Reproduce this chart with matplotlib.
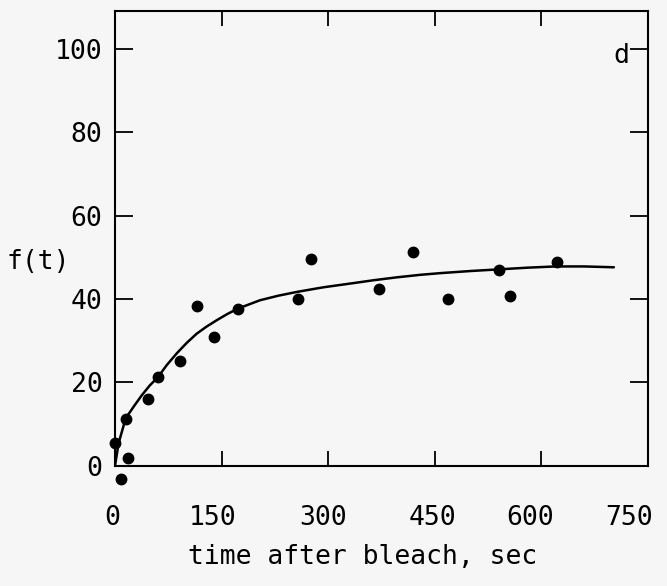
import matplotlib
matplotlib.use("Agg")
from matplotlib import pyplot as plt
from matplotlib.transforms import ScaledTranslation

# data (panel d)
t_points = [0, 9, 15, 19, 47, 60, 91, 116, 139, 173, 257, 276, 372, 419, 468, 540, 556, 622]
f_points = [5.6, -3.2, 11.2, 1.8, 16.0, 21.3, 25.2, 38.4, 30.9, 37.7, 40.1, 49.7, 42.5, 51.3, 40.0, 47.0, 40.7, 48.9]

# hand drawn fit curve, traced
t_curve = [0, 5, 15, 27, 38, 49, 60, 73, 87, 101, 115, 129, 143, 158, 173, 204, 230, 256, 293, 331, 364, 397, 430, 458, 500, 540, 580, 620, 660, 702]
f_curve = [0, 5.4, 11.4, 14.4, 17.0, 19.3, 21.2, 24.2, 27.0, 29.5, 31.7, 33.4, 34.9, 36.4, 37.7, 39.7, 40.8, 41.7, 42.8, 43.7, 44.5, 45.2, 45.8, 46.2, 46.7, 47.1, 47.5, 47.8, 47.8, 47.6]

x_ticks = [0, 150, 300, 450, 600, 750]
y_ticks = [0, 20, 40, 60, 80, 100]

mono = "DejaVu Sans Mono"
fs = 19
bg = "#f6f6f6"

fig = plt.figure(figsize=(6.67, 5.86), dpi=100, facecolor=bg)
ax = fig.add_axes([0.1724, 0.2048, 0.7991, 0.7765], facecolor=bg)

ax.plot(t_curve, f_curve, color="black", lw=1.8, solid_capstyle="round")
ax.plot(t_points, f_points, "o", color="black", ms=7.5, clip_on=False)

ax.set_xlim(0, 750)
ax.set_ylim(0, 109)
ax.set_xticks(x_ticks)
ax.set_yticks(y_ticks)

for s in ax.spines.values():
    s.set_linewidth(1.5)

ax.tick_params(axis="x", direction="in", top=True, length=11, width=1.3,
               pad=28, labelsize=fs)
ax.tick_params(axis="y", direction="in", right=True, length=13, width=1.3,
               pad=9, labelsize=fs)
for lab in ax.get_xticklabels() + ax.get_yticklabels():
    lab.set_family(mono)

# the typed labels in the original sit a bit left of their ticks
shifts = [-3, -9, -5, -2, -11, -19]
for lab, dx in zip(ax.get_xticklabels(), shifts):
    lab.set_transform(lab.get_transform() + ScaledTranslation(dx / 100, 0, fig.dpi_scale_trans))

ax.set_xlabel("time after bleach, sec", family=mono, fontsize=fs, va="top")
ax.xaxis.set_label_coords(0.465, -0.172)
ax.set_ylabel("f(t)", family=mono, fontsize=fs, rotation=0, ha="center", va="center")
ax.yaxis.set_label_coords(-0.1445, 0.448)

ax.text(712, 98.3, "d", family=mono, fontsize=fs, ha="center", va="center")

fig.savefig("out.png", dpi=100, facecolor=bg)
